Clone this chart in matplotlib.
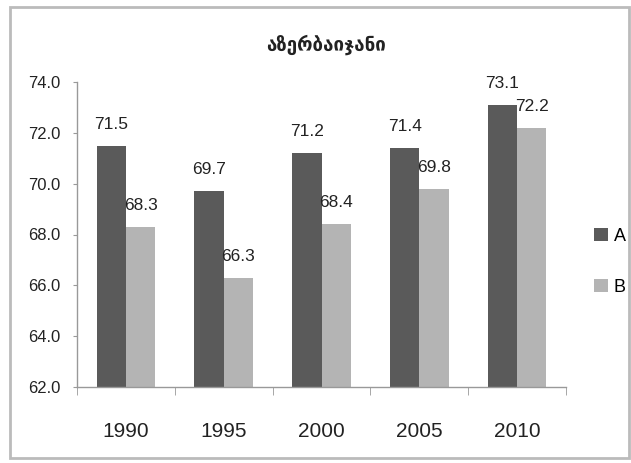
import matplotlib
matplotlib.use("Agg")
import matplotlib.pyplot as plt
from matplotlib.patches import Rectangle
import numpy as np

title = "აზერბაიჯანი"
years = ["1990", "1995", "2000", "2005", "2010"]
series_a = [71.5, 69.7, 71.2, 71.4, 73.1]
series_b = [68.3, 66.3, 68.4, 69.8, 72.2]
labels = ["A", "B"]
yticks = [62.0, 64.0, 66.0, 68.0, 70.0, 72.0, 74.0]

col_a = "#5a5a5a"
col_b = "#b4b4b4"
fam = ["Liberation Sans", "DejaVu Sans"]

fig = plt.figure(figsize=(6.31, 4.63), dpi=100)
ax = fig.add_axes([77/631, 1-387/463, (566-77)/631, (387-82)/463])

x = np.arange(len(years))
w = 0.3
bars_a = ax.bar(x - w/2, np.array(series_a) - 62, w, bottom=62, color=col_a, label=labels[0])
bars_b = ax.bar(x + w/2, np.array(series_b) - 62, w, bottom=62, color=col_b, label=labels[1])

for xi, v in zip(x - w/2, series_a):
    ax.annotate(f"{v:.1f}", (xi, v), xytext=(0, 10), textcoords="offset points",
                ha="center", va="bottom", fontsize=12.5, family=fam, color="#222222")
for xi, v in zip(x + w/2, series_b):
    ax.annotate(f"{v:.1f}", (xi, v), xytext=(0, 10), textcoords="offset points",
                ha="center", va="bottom", fontsize=12.5, family=fam, color="#222222")

ax.set_xlim(-0.5, len(years) - 0.5)
ax.set_ylim(62, 74)
ax.set_yticks(yticks)
ax.set_yticklabels([f"{t:.1f}" for t in yticks], fontsize=12, family=fam, color="#222222")
ax.set_xticks(x)
ax.set_xticklabels(years, fontsize=15, family=fam, color="#222222")
ax.tick_params(axis="x", length=0, pad=25)
ax.tick_params(axis="y", length=3, color="#999999", pad=9)
ax.set_xticks(np.arange(-0.5, len(years), 1), minor=True)
ax.tick_params(axis="x", which="minor", length=6, color="#999999")

for s in ["top", "right"]:
    ax.spines[s].set_visible(False)
for s in ["left", "bottom"]:
    ax.spines[s].set_color("#999999")
    ax.spines[s].set_linewidth(1)

fig.text(326/631, 1-45/463, title, ha="center", va="center", fontsize=13.5,
         fontweight="bold", family=["DejaVu Sans"], color="#222222")

leg = fig.legend(handles=[bars_a, bars_b], labels=labels, loc="center left",
                 bbox_to_anchor=(594/631, 1-262/463), frameon=False,
                 borderpad=0, borderaxespad=0,
                 prop={"family": fam, "size": 13}, labelspacing=1.9,
                 handlelength=0.75, handleheight=0.75, handletextpad=0.35)

fig.patches.append(Rectangle((10/631, 1-458/463), 619/631, 451/463,
                             transform=fig.transFigure, fill=False,
                             edgecolor="#bbbbbb", linewidth=2))

fig.savefig("out.png", dpi=100)
